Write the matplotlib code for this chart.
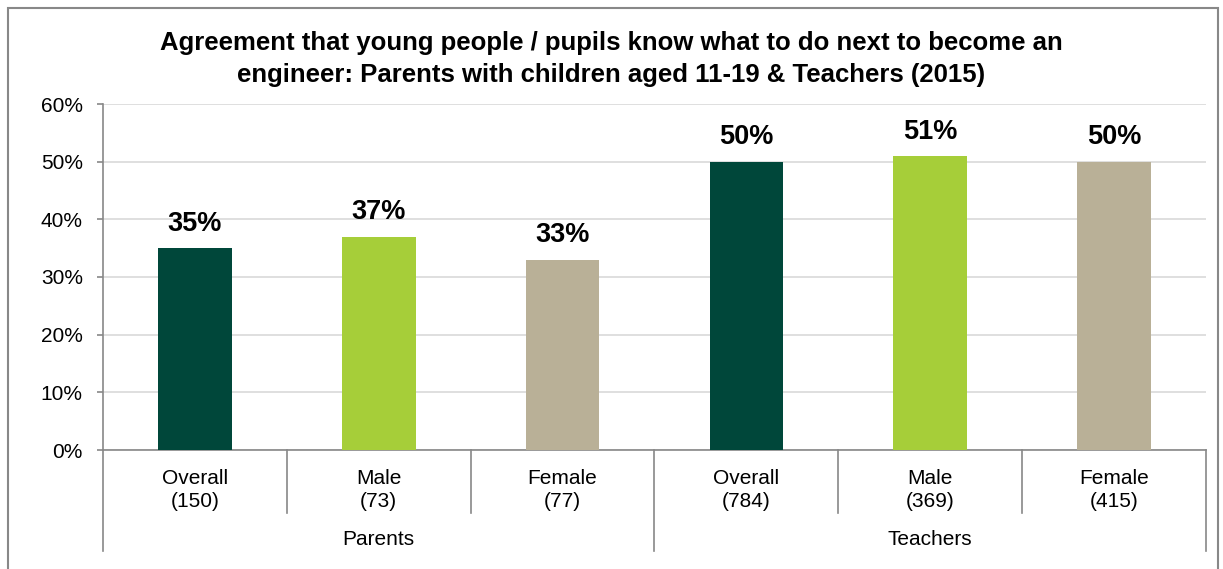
import matplotlib.pyplot as plt
import matplotlib.transforms as mtransforms
from matplotlib.patches import Rectangle

plt.rcParams['font.family'] = ['Liberation Sans', 'DejaVu Sans']

groups = ["Parents", "Teachers"]
names = ["Overall", "Male", "Female", "Overall", "Male", "Female"]
counts = [150, 73, 77, 784, 369, 415]
values = [35, 37, 33, 50, 51, 50]
colors = ["#00473A", "#A6CE39", "#B9B097"] * 2

fig = plt.figure(figsize=(12.23, 5.69), dpi=100)
ax = fig.add_axes([103 / 1223, 1 - 450 / 569, (1206 - 103) / 1223, (450 - 104) / 569])

x = list(range(len(values)))
ax.bar(x, values, width=0.4, color=colors, zorder=3)
for xi, v in zip(x, values):
    ax.text(xi, v + 3.0, f"{v}%", ha="center", va="baseline", fontsize=19.5, fontweight="bold")

ax.set_xlim(-0.5, 5.5)
ax.set_ylim(0, 60)
ax.set_yticks(range(0, 61, 10))
ax.set_yticklabels([f"{t}%" for t in range(0, 61, 10)], fontsize=15)
ax.yaxis.grid(True, color="#D9D9D9", linewidth=1.2, zorder=0)
ax.set_xticks([])
ax.tick_params(axis="y", length=4.5, width=1.2, color="#888888", pad=10)
for s in ["top", "right"]:
    ax.spines[s].set_visible(False)
for s in ["left", "bottom"]:
    ax.spines[s].set_color("#888888")
    ax.spines[s].set_linewidth(1.2)

trans = mtransforms.blended_transform_factory(ax.transData, ax.transAxes)
# separators for the two-level x axis
for b in [0.5, 1.5, 3.5, 4.5]:
    ax.plot([b, b], [0, -0.182], transform=trans, color="#888888", lw=1.2, clip_on=False)
for b in [-0.5, 2.5, 5.5]:
    ax.plot([b, b], [0, -0.292], transform=trans, color="#888888", lw=1.2, clip_on=False)

for xi, nm, n in zip(x, names, counts):
    ax.text(xi, -0.098, nm, transform=trans, ha="center", va="baseline", fontsize=15)
    ax.text(xi, -0.165, f"({n})", transform=trans, ha="center", va="baseline", fontsize=15)
for gi, g in enumerate(groups):
    ax.text(gi * 3 + 1, -0.275, g, transform=trans, ha="center", va="baseline", fontsize=15)

fig.text(0.5, 1 - 50 / 569,
         "Agreement that young people / pupils know what to do next to become an",
         ha="center", va="baseline", fontsize=18.5, fontweight="bold")
fig.text(0.5, 1 - 82 / 569,
         "engineer: Parents with children aged 11-19 & Teachers (2015)",
         ha="center", va="baseline", fontsize=18.5, fontweight="bold")

fig.patches.append(Rectangle((8 / 1223, -0.05), (1218 - 8) / 1223, 1.05 - 8 / 569,
                             transform=fig.transFigure, fill=False,
                             edgecolor="#888888", linewidth=1.5))

fig.savefig("out.png", dpi=100)
